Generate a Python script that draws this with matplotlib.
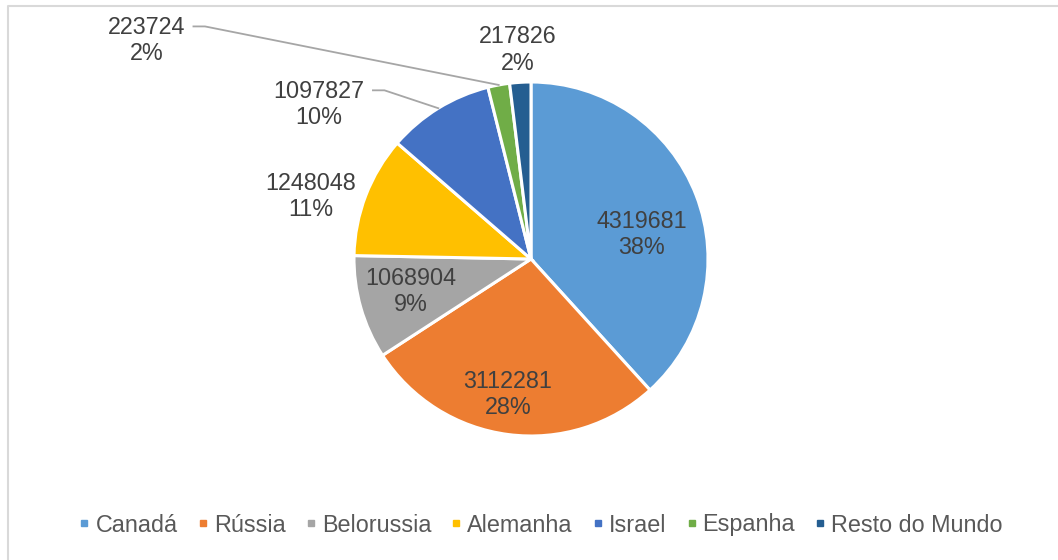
import numpy as np
import matplotlib
matplotlib.use("Agg")
import matplotlib.pyplot as plt
from matplotlib.lines import Line2D

categories = ["Canadá", "Rússia", "Belorussia", "Alemanha", "Israel", "Espanha", "Resto do Mundo"]
values = [4319681, 3112281, 1068904, 1248048, 1097827, 223724, 217826]
colors = ["#5B9BD5", "#ED7D31", "#A5A5A5", "#FFC000", "#4472C4", "#70AD47", "#255E91"]

# label placement (in pie-radius units)
label_xy = [(0.627, 0.138), (-0.130, -0.766), (-0.678, -0.184), (-1.243, 0.353),
            (-1.198, 0.873), (-2.172, 1.234), (-0.076, 1.181)]
leader = [False, False, False, False, True, True, False]

plt.rcParams['font.family'] = ['Liberation Sans', 'DejaVu Sans']
W, H = 1058, 560
fig = plt.figure(figsize=(W / 100, H / 100), dpi=100)
fig.patch.set_facecolor("white")

# outer frame (left and top visible)
fig.add_artist(Line2D([7.5 / W, 7.5 / W, 1.0], [0.0, 1 - 6 / H, 1 - 6 / H],
                      transform=fig.transFigure, color="#D9D9D9", lw=1.5))

cx, cy, r = 531, 259, 177
ax = fig.add_axes([(cx - r) / W, (H - cy - r) / H, 2 * r / W, 2 * r / H])
wedges, _ = ax.pie(values, colors=colors, startangle=90, counterclock=False,
                   radius=1.0, wedgeprops=dict(edgecolor="white", linewidth=2.2))
ax.set_xlim(-1, 1)
ax.set_ylim(-1, 1)
ax.set_aspect("equal")
ax.axis("off")

total = sum(values)
fs = 16.8
for i, (w, v) in enumerate(zip(wedges, values)):
    pct = round(100 * v / total)
    lx, ly = label_xy[i]
    ax.text(lx, ly, f"{v}\n{pct}%", ha="center", va="center", fontsize=fs,
            color="#404040", linespacing=1.2, clip_on=False)
    if leader[i]:
        mid = np.deg2rad((w.theta1 + w.theta2) / 2)
        ex, ey = np.cos(mid), np.sin(mid)
        half_w = 0.285 if v > 1e6 else 0.245
        sx = lx + half_w + 0.02
        sy = ly + 0.08
        ax.plot([sx, sx + 0.065, ex], [sy, sy, ey], color="#A6A6A6", lw=1.3,
                clip_on=False)

handles = [Line2D([0], [0], marker="s", color="none", markerfacecolor=c,
                  markeredgecolor=c, markersize=5) for c in colors]
fig.legend(handles, categories, loc="center", bbox_to_anchor=(541 / W, 1 - 525 / H),
           ncol=7, frameon=False, fontsize=fs, handlelength=0.45, handletextpad=0.25,
           columnspacing=0.85, labelcolor="#595959", borderaxespad=0)

fig.savefig("out.png", dpi=100, facecolor="white")
